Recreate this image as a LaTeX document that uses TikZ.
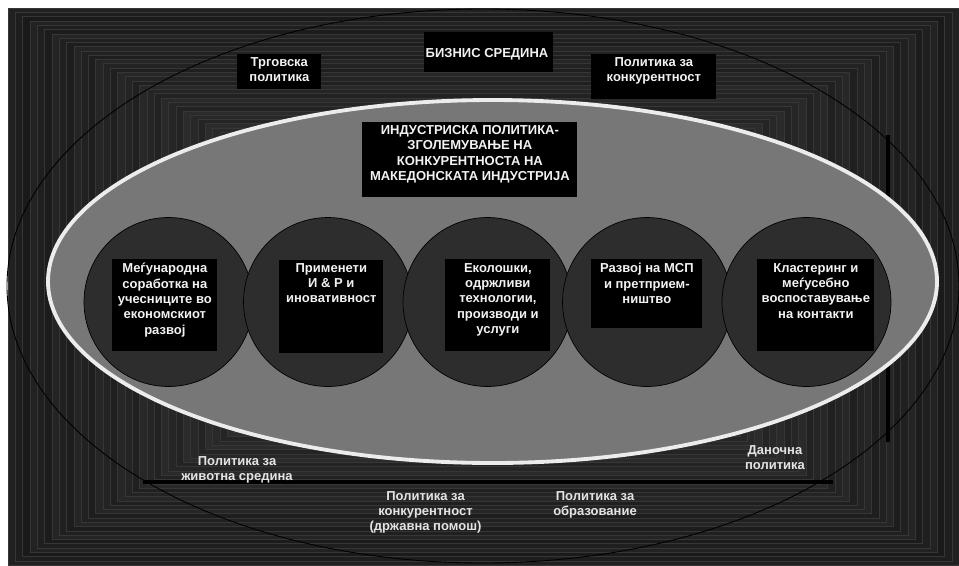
\documentclass[tikz,border=0pt]{standalone}
\usepackage{fontspec}
\setmainfont{Liberation Sans}
\usepackage{tikz}
\usetikzlibrary{positioning}
\pgfdeclarelayer{bg}
\pgfsetlayers{bg,main}
\usepackage{color}
\definecolor{ringgray}{HTML}{777777}
\definecolor{discgray}{HTML}{2D2D2D}
\definecolor{rimwhite}{HTML}{ECECEC}
\definecolor{labelwhite}{HTML}{F2F2F2}
\definecolor{policywhite}{HTML}{E4E4E4}

\begin{document}
\begin{tikzpicture}[x=0.02cm, y=-0.02cm,
    box/.style={fill=black, inner sep=0pt, anchor=north west},
    disc/.style={circle, fill=discgray, draw=black, line width=0.4pt, minimum size=3.38cm, inner sep=0pt},
    lbl/.style={text=labelwhite, font=\fontsize{7.4}{8.7}\selectfont\bfseries, align=center, inner sep=0pt, anchor=north}]
    \useasboundingbox (0,0) rectangle (959,565);

    \begin{pgfonlayer}{bg}    % shaded frame behind everything
        \fill [white] (0,0) rectangle (959,565);
        \foreach \i [evaluate=\i as \g using {87-0.16*\i+1.5*mod(\i,3)}] in {0,...,60}
            \filldraw [fill=black!\g, draw=black!79, line width=0.2pt] (8+7.3*\i,8+4.28*\i) rectangle (959-7.3*\i,565-4.28*\i);
    \end{pgfonlayer}

    \draw [line width=2.3pt] (143,482) -- (833,482);
    \draw [line width=2pt] (888,135) -- (888,442);
    \draw [line width=0.5pt] (483,286) ellipse (476 and 277);
    \draw [fill=ringgray, draw=rimwhite, line width=2.2pt] (492.5,281.5) ellipse (444.5 and 181.5);

    \node [disc] (c1) at (168.5,302) {};
    \node [disc] (c2) at (328,302) {};
    \node [disc] (c3) at (487.5,302) {};
    \node [disc] (c4) at (647,302) {};
    \node [disc] (c5) at (806.5,302) {};

    % boxes on the outer ring
    \node [box, minimum width=2.58cm, minimum height=0.8cm] (b0) at (424,32) {};
    \node [lbl, below=0.32cm of b0.north] (t0) { БИЗНИС СРЕДИНА };
    \node [box, minimum width=1.68cm, minimum height=0.7cm] (b01) at (237,54) {};
    \node [lbl, below=0.06cm of b01.north] (t01) { Трговска\\политика };
    \node [box, minimum width=2.5cm, minimum height=0.9cm] (b02) at (591,54) {};
    \node [lbl, below=0.06cm of b02.north] (t02) { Политика за\\конкурентност };
    \node [box, minimum width=4.3cm, minimum height=1.5cm] (bi) at (362,122) {};
    \node [lbl, below=0.06cm of bi.north] (ti) { ИНДУСТРИСКА ПОЛИТИКА-\\ЗГОЛЕМУВАЊЕ НА\\КОНКУРЕНТНОСТА НА\\МАКЕДОНСКАТА ИНДУСТРИЈА };

    % boxes in the discs
    \node [box, minimum width=2.1cm, minimum height=1.84cm] (b1) at (112,259) {};
    \node [lbl, below=0.08cm of b1.north] (t1) { Меѓународна\\соработка на\\учесниците во\\економскиот\\развој };
    \node [box, minimum width=2.08cm, minimum height=1.86cm] (b2) at (279,260) {};
    \node [lbl, below=0.06cm of b2.north] (t2) { Применети\\И \& Р и\\иновативност };
    \node [box, minimum width=2.1cm, minimum height=1.84cm] (b3) at (445,259) {};
    \node [lbl, below=0.08cm of b3.north] (t3) { Еколошки,\\одржливи\\технологии,\\производи и\\услуги };
    \node [box, minimum width=2.22cm, minimum height=1.38cm] (b4) at (591,259) {};
    \node [lbl, below=0.08cm of b4.north] (t4) { Развој на МСП\\и претприем-\\ништво };
    \node [box, minimum width=2.34cm, minimum height=1.84cm] (b5) at (757,259) {};
    \node [lbl, below=0.08cm of b5.north] (t5) { Кластеринг и\\меѓусебно\\воспоставување\\на контакти };

    % policies below
    \node [lbl, text=policywhite] (l1) at (237,456) { Политика за\\животна средина };
    \node [lbl, text=policywhite] (l2) at (425.5,491) { Политика за\\конкурентност\\(државна помош) };
    \node [lbl, text=policywhite] (l3) at (595,491) { Политика за\\образование };
    \node [lbl, text=policywhite] (l4) at (775,445) { Даночна\\политика };

\end{tikzpicture}
\end{document}
